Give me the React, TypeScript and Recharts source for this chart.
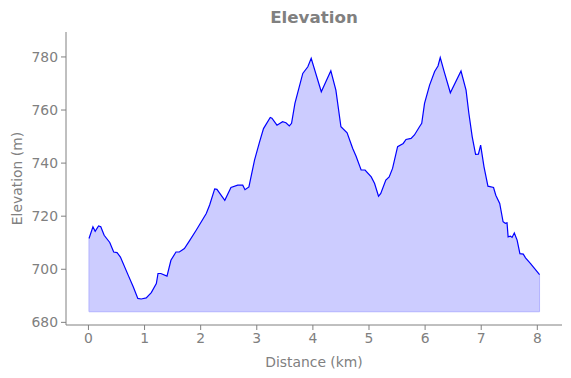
import React from 'react';
import {
  ComposedChart,
  Area,
  Line,
  XAxis,
  YAxis,
  ReferenceLine,
  Label
} from 'recharts';

const distances = [
  0.01, 0.08, 0.12, 0.18, 0.22, 0.28, 0.38, 0.45, 0.51, 0.57, 0.71, 0.8, 0.88, 0.94,
  1.03, 1.12, 1.21, 1.24, 1.29, 1.4, 1.47, 1.56, 1.62, 1.71, 1.8, 1.92, 2.1, 2.16,
  2.25, 2.29, 2.43, 2.54, 2.66, 2.75, 2.79, 2.86, 2.96, 3.05, 3.12, 3.24, 3.27, 3.36,
  3.46, 3.52, 3.58, 3.62, 3.68, 3.82, 3.91, 3.97, 4.15, 4.32, 4.41, 4.5, 4.61, 4.71,
  4.77, 4.86, 4.93, 5.04, 5.1, 5.17, 5.21, 5.3, 5.36, 5.42, 5.51, 5.61, 5.66, 5.75,
  5.81, 5.9, 5.94, 5.99, 6.08, 6.17, 6.23, 6.27, 6.34, 6.45, 6.64, 6.73, 6.78, 6.84,
  6.9, 6.95, 6.99, 7.05, 7.12, 7.22, 7.26, 7.33, 7.39, 7.43, 7.46, 7.48, 7.52, 7.55,
  7.59, 7.64, 7.69, 7.75, 7.79, 7.88, 8.04
];

const elevations = [
  711.6, 716.0, 714.3, 716.3, 716.0, 712.8, 710.1, 706.5, 706.3, 704.6, 697.7, 693.3, 689.0, 688.8,
  689.2, 691.2, 694.6, 698.4, 698.4, 697.4, 703.4, 706.5, 706.5, 707.8, 710.7, 714.7, 721.0, 724.2,
  730.3, 730.1, 726.0, 730.8, 731.7, 731.7, 730.0, 731.0, 741.1, 748.0, 753.0, 757.2, 756.9, 754.3,
  755.6, 755.2, 754.0, 755.0, 762.5, 773.8, 776.3, 779.5, 766.9, 774.8, 767.5, 753.7, 751.4, 745.5,
  742.6, 737.4, 737.4, 734.8, 732.3, 727.5, 728.6, 733.6, 734.8, 738.0, 746.2, 747.4, 748.9, 749.3,
  750.6, 753.7, 755.0, 762.5, 769.4, 774.5, 776.6, 779.8, 774.5, 766.5, 774.7, 767.5, 758.8, 749.9,
  743.3, 743.4, 746.8, 738.6, 731.3, 730.8, 727.9, 724.8, 717.9, 717.3, 717.5, 712.2, 712.5, 712.0,
  713.7, 711.0, 705.9, 705.7, 704.3, 702.1, 698.0
];

const baseElevation = 684;
const xTicks = [0, 1, 2, 3, 4, 5, 6, 7, 8];
const yTicks = [680, 700, 720, 740, 760, 780];

const data = distances.map((d, i) => ({ distance: d, elevation: elevations[i] }));
const firstD = distances[0];
const lastD = distances[distances.length - 1];

const grey = '#808080';

export default function App() {
  return (
    <div style={{ position: 'absolute', left: 0, top: 0, width: 571, height: 378, fontFamily: 'DejaVu Sans', background: '#fff' }}>
      <div
        style={{
          position: 'absolute',
          left: 66,
          width: 496,
          top: 7,
          textAlign: 'center',
          fontWeight: 'bold',
          fontSize: 16.7,
          color: grey
        }}
      >
        Elevation
      </div>
      <ComposedChart
        width={571}
        height={378}
        data={data}
        margin={{ top: 32, right: 9, left: 0, bottom: 0 }}
      >
        <XAxis
          type="number"
          dataKey="distance"
          domain={[-0.4, 8.44]}
          ticks={xTicks}
          allowDataOverflow
          height={53}
          stroke={grey}
          tickSize={5}
          tickMargin={3}
          tick={{ fill: grey, fontSize: 13.9 }}
        >
          <Label value="Distance (km)" position="insideBottom" offset={11} fill={grey} fontSize={13.9} />
        </XAxis>
        <YAxis
          type="number"
          domain={[679, 789.4]}
          ticks={yTicks}
          allowDataOverflow
          width={66}
          stroke={grey}
          tickSize={5}
          tickMargin={3}
          tick={{ fill: grey, fontSize: 13.9 }}
        >
          <Label
            value="Elevation (m)"
            angle={-90}
            position="insideLeft"
            offset={17}
            fill={grey}
            fontSize={13.9}
            style={{ textAnchor: 'middle' }}
          />
        </YAxis>
        <Area
          type="linear"
          dataKey="elevation"
          baseValue={baseElevation}
          fill="#ccccff"
          fillOpacity={1}
          stroke="none"
          isAnimationActive={false}
        />
        <ReferenceLine segment={[{ x: firstD, y: baseElevation }, { x: lastD, y: baseElevation }]} stroke="#b3b3ff" />
        <ReferenceLine segment={[{ x: firstD, y: baseElevation }, { x: firstD, y: elevations[0] }]} stroke="#b3b3ff" />
        <ReferenceLine segment={[{ x: lastD, y: baseElevation }, { x: lastD, y: elevations[elevations.length - 1] }]} stroke="#b3b3ff" />
        <Line
          type="linear"
          dataKey="elevation"
          stroke="#0000ff"
          strokeWidth={1.2}
          dot={false}
          activeDot={false}
          isAnimationActive={false}
        />
      </ComposedChart>
    </div>
  );
}
